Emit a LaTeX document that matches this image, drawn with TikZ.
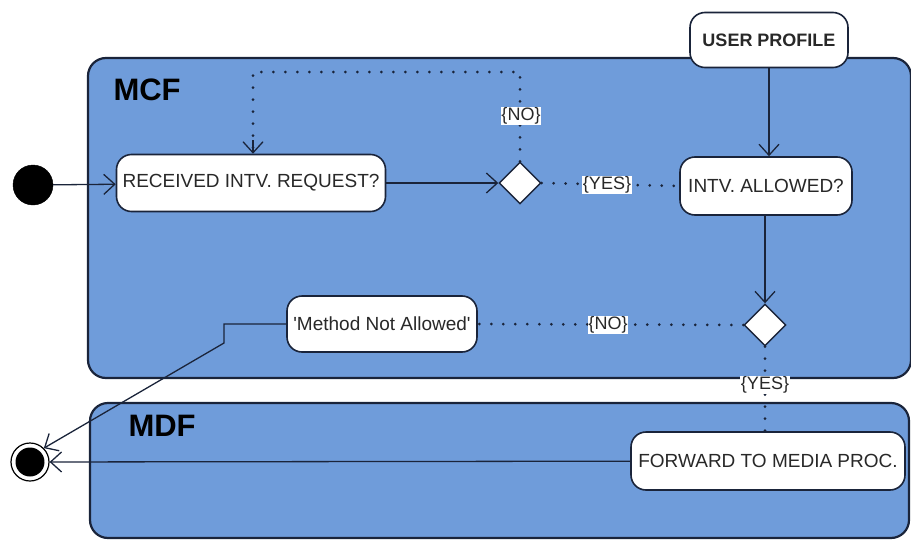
\documentclass[tikz,border=0pt]{standalone}
\usepackage{fontspec}
\setmainfont{Liberation Sans}
\usetikzlibrary{arrows.meta,shapes.geometric}
\definecolor{lane}{RGB}{111,156,218}
\definecolor{edge}{RGB}{26,36,58}
\definecolor{txt}{RGB}{40,40,40}
\tikzset{
  lanebox/.style={draw=edge,line width=2.2pt,fill=lane,rounded corners=18pt},
  act/.style={draw=edge,line width=1.6pt,fill=white,rounded corners=15pt,font=\fontsize{19}{22}\selectfont,text=txt,inner sep=0pt,align=center},
  dec/.style={draw=edge,line width=1.4pt,fill=white,diamond,minimum width=42pt,minimum height=42pt,inner sep=0pt},
  flow/.style={draw=edge,line width=1.3pt,-{Straight Barb[length=11pt,width=20pt,line width=1.3pt]}},
  guard/.style={draw=edge,line width=3pt,line cap=round,dash pattern=on 0pt off 12pt},
  glabel/.style={fill=white,inner sep=0.5pt,font=\fontsize{18}{20}\selectfont,text=txt},
  lanetitle/.style={font=\bfseries\fontsize{31}{34}\selectfont,text=black,anchor=west}
}
\begin{document}
\begin{tikzpicture}[x=1pt,y=-1pt]
\useasboundingbox (0,0) rectangle (911,541);
% swimlanes
\draw[lanebox] (88,58) rectangle (911,378);
\draw[lanebox] (90,403) rectangle (909,538);
\node[lanetitle] (mcf) at (110,90) {MCF};
\node[lanetitle] (mdf) at (125,426) {MDF};
% nodes
\node[circle,fill=black,draw=black,minimum size=40pt,inner sep=0pt] (init) at (33,185) {};
\node[act,minimum width=269pt,minimum height=57pt] (recv) at (251,183) {RECEIVED INTV. REQUEST?};
\node[dec] (d1) at (520,183) {};
\node[act,minimum width=172pt,minimum height=58pt] (allowed) at (766,186) {INTV. ALLOWED?};
\node[act,minimum width=158pt,minimum height=55pt,font=\bfseries\fontsize{18}{20}\selectfont] (profile) at (769,40) {USER PROFILE};
\node[dec] (d2) at (765,325) {};
\node[act,minimum width=190pt,minimum height=56pt] (mna) at (382,324) {\textquotesingle Method Not Allowed\textquotesingle};
\node[act,minimum width=274pt,minimum height=58pt] (fwd) at (768,461) {FORWARD TO MEDIA PROC.};
\node[circle,draw=black,line width=1.2pt,fill=white,minimum size=38pt,inner sep=0pt] (final) at (30,462) {};
\node[circle,fill=black,minimum size=29pt,inner sep=0pt] (finalin) at (final) {};
% connectors
\draw[flow] (init) -- (recv);
\draw[flow] (recv) -- (d1);
\draw[flow] (profile.south) -- (profile.south |- allowed.north);
\draw[flow] (allowed.south -| d2) -- (d2);
\draw[flow] (fwd) -- (final);
\coordinate (m1) at (224,324);
\coordinate (m2) at (224,343);
\draw[flow] (mna) -- (m1) -- (m2) -- (final.north east);
% guarded flows
\coordinate (n1) at (520,72);
\coordinate (n2) at (253,72);
\draw[guard] (d1.north) -- (n1) -- (n2) -- (recv.north -| n2);
\draw[flow] (253,140) -- (recv.north -| n2);
\node[glabel] (lno1) at (521,116) {\{NO\}};
\draw[guard] (d1.east) -- (allowed.west);
\node[glabel] (lyes1) at (607,185) {\{YES\}};
\draw[guard] (d2.west) -- (mna.east);
\node[glabel] (lno2) at (608,325) {\{NO\}};
\draw[guard] (d2.south) -- (d2.south |- fwd.north);
\node[glabel] (lyes2) at (765,385) {\{YES\}};
\end{tikzpicture}
\end{document}
